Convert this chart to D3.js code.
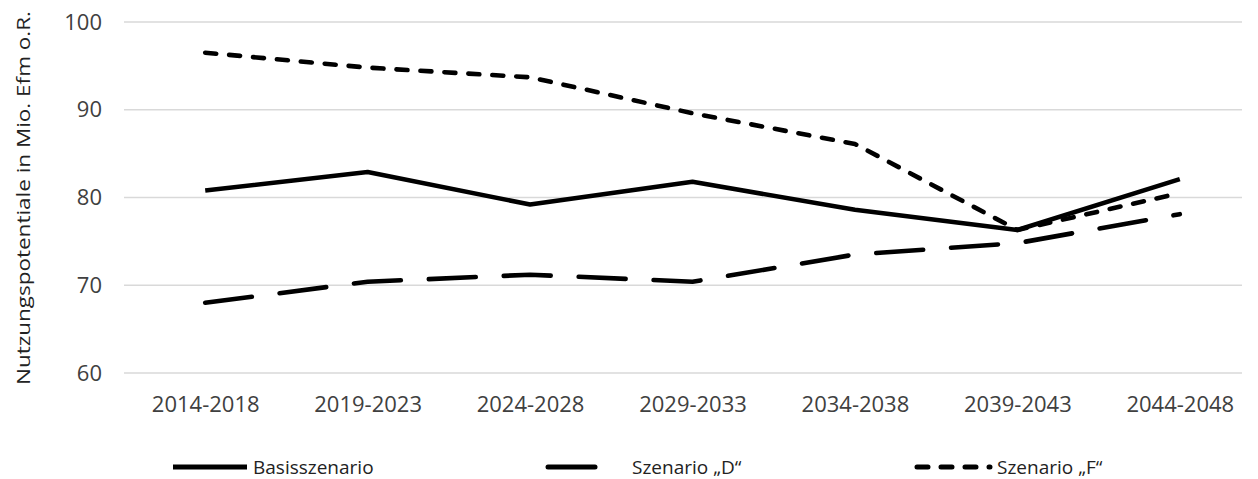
<!DOCTYPE html>
<html>
<head>
<meta charset="utf-8">
<script src="https://cdn.jsdelivr.net/npm/d3@7"></script>
<style>
  body { margin: 0; background: #fff; }
  svg { display: block; font-family: "Open Sans", "Noto Sans", sans-serif; }
</style>
</head>
<body>
<svg id="chart" width="1258" height="479"></svg>
<script>
const periods = ["2014-2018", "2019-2023", "2024-2028", "2029-2033", "2034-2038", "2039-2043", "2044-2048"];
const basis = [80.8, 82.9, 79.2, 81.8, 78.6, 76.3, 82.1];
const szenD = [68.0, 70.4, 71.2, 70.4, 73.5, 74.8, 78.1];
const szenF = [96.5, 94.8, 93.7, 89.6, 86.1, 76.3, 80.5];
const yTicks = [60, 70, 80, 90, 100];

const series = [
  { name: "Basisszenario", values: basis, dash: null },
  { name: "Szenario \u201eD\u201c", values: szenD, dash: "47,28" },
  { name: "Szenario \u201eF\u201c", values: szenF, dash: "11,13" }
];

const svg = d3.select("#chart");
const margin = { top: 22, right: 0, bottom: 106, left: 124 };
const width = 1258, height = 479;

const x = d3.scalePoint()
  .domain(periods)
  .range([margin.left, 1261])
  .padding(0.5);

const y = d3.scaleLinear()
  .domain([60, 100])
  .range([height - margin.bottom, margin.top]);

// gridlines
svg.append("g")
  .selectAll("line")
  .data(yTicks)
  .join("line")
  .attr("x1", margin.left)
  .attr("x2", 1242)
  .attr("y1", d => y(d))
  .attr("y2", d => y(d))
  .attr("stroke", "#d9d9d9")
  .attr("stroke-width", 1.3);

// y axis labels
const yAxis = g => g
  .attr("transform", `translate(${margin.left},0)`)
  .call(d3.axisLeft(y).tickValues(yTicks).tickSize(0).tickPadding(22))
  .call(g => g.select(".domain").remove())
  .call(g => g.selectAll("text")
    .attr("font-size", 22)
    .attr("fill", "#404040")
    .attr("font-family", "Open Sans, sans-serif"));
svg.append("g").call(yAxis);

// x axis labels
const xAxis = g => g
  .attr("transform", `translate(0,${y(60)})`)
  .call(d3.axisBottom(x).tickSize(0).tickPadding(23))
  .call(g => g.select(".domain").remove())
  .call(g => g.selectAll("text")
    .attr("font-size", 22)
    .attr("fill", "#404040")
    .attr("font-family", "Open Sans, sans-serif"));
svg.append("g").call(xAxis);

// y title
svg.append("text")
  .attr("transform", "translate(30,198) rotate(-90)")
  .attr("text-anchor", "middle")
  .attr("font-size", 19)
  .attr("textLength", 374)
  .attr("lengthAdjust", "spacingAndGlyphs")
  .attr("fill", "#222")
  .text("Nutzungspotentiale  in Mio. Efm o.R.");

// lines
const line = d3.line()
  .x((d, i) => x(periods[i]))
  .y(d => y(d));

svg.append("g")
  .selectAll("path")
  .data(series)
  .join("path")
  .attr("d", d => line(d.values))
  .attr("fill", "none")
  .attr("stroke", "#000")
  .attr("stroke-width", 4.6)
  .attr("stroke-linecap", d => d.dash ? "round" : "butt")
  .attr("stroke-linejoin", "round")
  .attr("stroke-dasharray", d => d.dash);

// legend
const legendPos = [
  { x1: 173, x2: 247, tx: 253 },
  { x1: 548, x2: 598, tx: 632 },
  { x1: 917, x2: 990, tx: 997 }
];
const legendY = 467;
const lg = svg.append("g")
  .selectAll("g")
  .data(series)
  .join("g");
lg.append("line")
  .attr("x1", (d, i) => legendPos[i].x1)
  .attr("x2", (d, i) => legendPos[i].x2)
  .attr("y1", legendY)
  .attr("y2", legendY)
  .attr("stroke", "#000")
  .attr("stroke-width", 5)
  .attr("stroke-linecap", d => d.dash ? "round" : "butt")
  .attr("stroke-dasharray", d => d.dash);
lg.append("text")
  .attr("x", (d, i) => legendPos[i].tx)
  .attr("y", legendY + 7)
  .attr("font-size", 19)
  .attr("fill", "#222")
  .text(d => d.name);
</script>
</body>
</html>
